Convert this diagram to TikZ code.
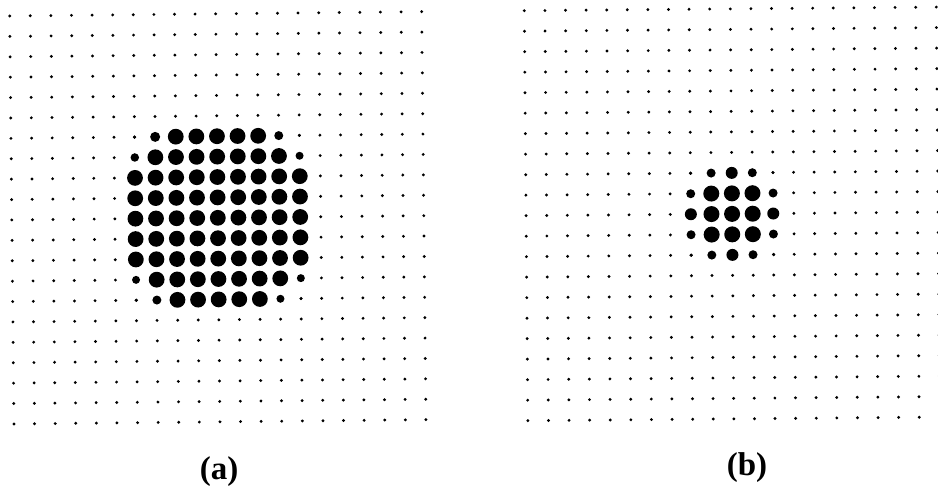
\documentclass[tikz,border=0pt]{standalone}
\usepackage{fontspec}
\setmainfont{Liberation Serif}
\usetikzlibrary{positioning}

% one 21 x 21 field of fine dots, pitch set by \pitchx and \pitchy
\newcommand{\dotgrid}{%
  \foreach \c in {0,...,20}
    \foreach \r in {0,...,20}
      \fill[bgdot] ({\c*\pitchx},{\r*\pitchy}) circle (1.6pt);
}
% one dot of the spot: column, row, radius (pt)
\newcommand{\spotdot}[3]{%
  \fill[spotfill] ({#1*\pitchx},{#2*\pitchy}) circle (#3pt);
}

\begin{document}
\begin{tikzpicture}[
    x=1pt, y=-1pt,
    bgdot/.style={fill=black},
    spotfill/.style={fill=black},
    capnode/.style={font=\fontsize{33}{38}\selectfont\bfseries},
  ]
  \useasboundingbox (0,0) rectangle (938,492);

  % (a) wide spot
  \begin{scope}[shift={(9.7,16)}, rotate=0.6]
    \def\pitchx{20.6}
    \def\pitchy{20.4}
    \dotgrid
    \foreach \c in {8,...,12} \foreach \r in {6,14} {\spotdot{\c}{\r}{7.9}}
    \foreach \c in {7,...,13} \foreach \r in {7,13} {\spotdot{\c}{\r}{7.9}}
    \foreach \c in {6,...,14} \foreach \r in {8,...,12} {\spotdot{\c}{\r}{7.9}}
    % rim of the spot
    \foreach \c/\r/\rad in {6/6/1.75, 7/6/5, 13/6/4.5, 14/6/1.6,
                            6/7/4.25, 14/7/4, 6/13/4, 14/13/4,
                            6/14/1.75, 7/14/4.5, 13/14/4, 14/14/1.6}
      {\spotdot{\c}{\r}{\rad}}
  \end{scope}

  % (b) narrow spot
  \begin{scope}[shift={(524.3,10.7)}, rotate=0.5]
    \def\pitchx{20.6}
    \def\pitchy{20.5}
    \dotgrid
    \foreach \c in {9,...,11} \foreach \r in {9,...,11} {\spotdot{\c}{\r}{8}}
    \foreach \c/\r/\rad in {8/8/1.75, 9/8/4.5, 10/8/6, 11/8/4.5, 12/8/1.6,
                            8/9/4.5, 12/9/4.5, 8/10/6, 12/10/6, 8/11/4.5, 12/11/4.5,
                            8/12/1.75, 9/12/4.5, 10/12/6, 11/12/4.5, 12/12/1.75}
      {\spotdot{\c}{\r}{\rad}}
  \end{scope}

  \node[capnode] (capa) at (219,472) {(a)};
  \node[capnode] (capb) at (747,468) {(b)};
\end{tikzpicture}
\end{document}
